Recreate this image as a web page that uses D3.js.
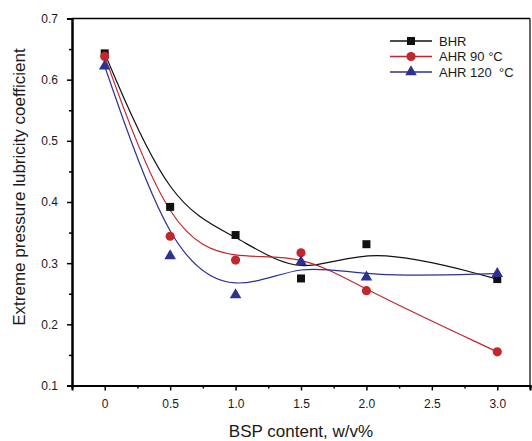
<!DOCTYPE html>
<html>
<head>
<meta charset="utf-8">
<script src="https://cdn.jsdelivr.net/npm/d3@7"></script>
<style>
  body { margin: 0; background: #fff; }
  text { font-family: Arial, "Liberation Sans", sans-serif; fill: #1a1a1a; }
</style>
</head>
<body>
<svg id="chart"></svg>
<script>
const WIDTH = 532;
const HEIGHT = 441;

// values
const contents = [0, 0.5, 1.0, 1.5, 2.0, 3.0];
const bhr = [0.643, 0.392, 0.346, 0.275, 0.331, 0.274];
const ahr90 = [0.638, 0.344, 0.305, 0.317, 0.255, 0.155];
const ahr120 = [0.622, 0.312, 0.248, 0.302, 0.277, 0.283];

const xMajor = [0, 0.5, 1.0, 1.5, 2.0, 2.5, 3.0];
const xMinor = [-0.25, 0.25, 0.75, 1.25, 1.75, 2.25, 2.75, 3.25];
const yMajor = [0.1, 0.2, 0.3, 0.4, 0.5, 0.6, 0.7];
const yMinor = [0.15, 0.25, 0.35, 0.45, 0.55, 0.65];

const seriesList = [
    { name: 'BHR', values: bhr, color: '#111111', marker: 'square' },
    { name: 'AHR 90 °C', values: ahr90, color: '#c1272d', marker: 'circle' },
    { name: 'AHR 120  °C', values: ahr120, color: '#2e3192', marker: 'triangle' },
];

const margin = { left: 72, right: 2, top: 18.5, bottom: 55.5 };

const svg = d3.select('#chart')
    .attr('width', WIDTH)
    .attr('height', HEIGHT);

const x = d3.scaleLinear()
    .domain([-0.25, 3.25])
    .range([margin.left, WIDTH - margin.right]);

const y = d3.scaleLinear()
    .domain([0.1, 0.7])
    .range([HEIGHT - margin.bottom, margin.top]);

function markerPath(type) {
    if (type === 'square') return d3.symbol().type(d3.symbolSquare).size(64)();
    if (type === 'circle') return d3.symbol().type(d3.symbolCircle).size(66)();
    return d3.symbol().type(d3.symbolTriangle).size(58)();
}

// frame: top and right thin
svg.append('line')
    .attr('x1', x(-0.25)).attr('x2', x(3.25))
    .attr('y1', y(0.7)).attr('y2', y(0.7))
    .attr('stroke', '#000').attr('stroke-width', 1.5);
svg.append('line')
    .attr('x1', x(3.25)).attr('x2', x(3.25))
    .attr('y1', y(0.7)).attr('y2', y(0.1))
    .attr('stroke', '#000').attr('stroke-width', 1.2);

const fmtX = d => d === 0 ? '0' : d3.format('.1f')(d);

const xAxis = svg.append('g')
    .attr('transform', `translate(0,${y(0.1)})`)
    .call(d3.axisBottom(x).tickValues(xMajor).tickSize(5).tickPadding(9).tickFormat(fmtX));
const xAxisMinor = svg.append('g')
    .attr('transform', `translate(0,${y(0.1)})`)
    .call(d3.axisBottom(x).tickValues(xMinor).tickSize(3).tickFormat(''));

const yAxis = svg.append('g')
    .attr('transform', `translate(${x(-0.25)},0)`)
    .call(d3.axisLeft(y).tickValues(yMajor).tickSize(5).tickPadding(9).tickFormat(d3.format('.1f')));
const yAxisMinor = svg.append('g')
    .attr('transform', `translate(${x(-0.25)},0)`)
    .call(d3.axisLeft(y).tickValues(yMinor).tickSize(3).tickFormat(''));

[xAxis, xAxisMinor, yAxis, yAxisMinor].forEach(g => {
    g.select('.domain').attr('stroke', '#000').attr('stroke-width', 2);
    g.selectAll('.tick line').attr('stroke', '#000').attr('stroke-width', 1.5);
    g.selectAll('.tick text')
        .style('font-size', '12px')
        .style('font-family', 'Arial, "Liberation Sans", sans-serif')
        .attr('fill', '#2a2a2a');
});

// axis titles
svg.append('text')
    .attr('x', (x(-0.25) + x(3.25)) / 2)
    .attr('y', 437)
    .attr('text-anchor', 'middle')
    .style('font-size', '17px')
    .text('BSP content, w/v%');

svg.append('text')
    .attr('transform', 'translate(25,187) rotate(-90)')
    .attr('text-anchor', 'middle')
    .style('font-size', '17px')
    .text('Extreme pressure lubricity coefficient');

// curves + markers
const line = d3.line()
    .x((d, i) => x(contents[i]))
    .y(d => y(d))
    .curve(d3.curveBasis);

seriesList.forEach(s => {
    svg.append('path')
        .datum(s.values)
        .attr('d', line)
        .attr('fill', 'none')
        .attr('stroke', s.color)
        .attr('stroke-width', 1.2);
});

seriesList.forEach(s => {
    svg.append('g')
        .selectAll('path')
        .data(s.values)
        .join('path')
        .attr('d', markerPath(s.marker))
        .attr('transform', (d, i) => `translate(${x(contents[i])},${y(d)})`)
        .attr('fill', s.color);
});

// legend
const legend = svg.append('g').attr('transform', 'translate(390,41)');
seriesList.forEach((s, i) => {
    const row = legend.append('g').attr('transform', `translate(0,${i * 15.5})`);
    row.append('line')
        .attr('x1', 0).attr('x2', 42)
        .attr('stroke', s.color).attr('stroke-width', 1.5);
    row.append('path')
        .attr('d', markerPath(s.marker))
        .attr('transform', 'translate(21,0)')
        .attr('fill', s.color);
    row.append('text')
        .attr('x', 49)
        .attr('y', 4.5)
        .style('font-size', '13px')
        .style('white-space', 'pre')
        .text(s.name);
});
</script>
</body>
</html>
